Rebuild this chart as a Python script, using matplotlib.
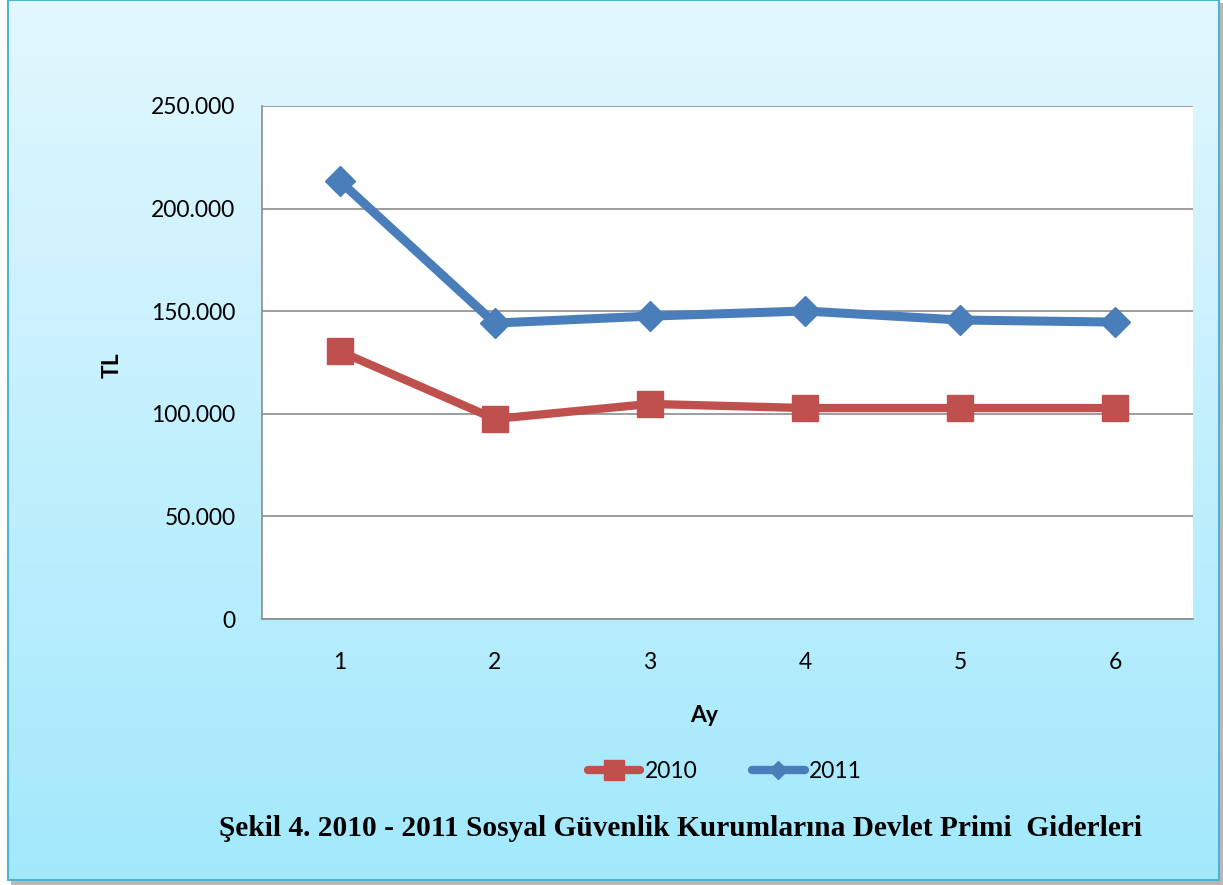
import numpy as np
import matplotlib
matplotlib.use("Agg")
import matplotlib.pyplot as plt
from matplotlib.patches import Rectangle
from matplotlib.lines import Line2D

months = [1, 2, 3, 4, 5, 6]
series_2010 = [130500, 97500, 104800, 102800, 102800, 102800]
series_2011 = [213500, 144200, 147600, 150100, 145700, 144700]
yticks = [0, 50000, 100000, 150000, 200000, 250000]
ytick_labels = ["0", "50.000", "100.000", "150.000", "200.000", "250.000"]
title = "Şekil 4. 2010 - 2011 Sosyal Güvenlik Kurumlarına Devlet Primi  Giderleri"

W, H = 1223, 885
fig = plt.figure(figsize=(W / 100, H / 100), dpi=100)

# background
bg = fig.add_axes([0, 0, 1, 1], zorder=-10)
bg.set_xlim(0, W); bg.set_ylim(H, 0); bg.axis("off")
bg.add_patch(Rectangle((11, 3), W - 11, H - 3, facecolor="#b8b8b8", edgecolor="none"))
top = np.array([0xE2, 0xF7, 0xFE]) / 255
bot = np.array([0xA3, 0xE9, 0xFC]) / 255
t = np.linspace(0, 1, 256)[:, None, None]
grad = top * (1 - t) + bot * t
grad = np.repeat(grad, 2, axis=1)
bg.imshow(grad, extent=(8, 1219, 880, 0), aspect="auto", zorder=1)
bg.add_patch(Rectangle((8, 0), 1211, 880, facecolor="none", edgecolor="#4eb3d3", linewidth=1.5, zorder=2))

font = "Lato"
fs = 16.5
ax = fig.add_axes([262 / W, 1 - 619 / H, (1193 - 262) / W, (619 - 106) / H])
ax.set_facecolor("white")
ax.set_xlim(0.5, 6.5)
ax.set_ylim(0, 250000)
ax.set_yticks(yticks)
ax.set_yticklabels(ytick_labels, fontsize=fs, fontfamily=font)
ax.set_xticks(months)
ax.set_xticklabels([str(m) for m in months], fontsize=fs, fontfamily=font)
ax.tick_params(length=0)
ax.tick_params(axis="y", pad=19)
ax.tick_params(axis="x", pad=24)
ax.yaxis.grid(True, color="#8c8c8c", linewidth=1.2)
ax.set_axisbelow(True)
for s in ["top", "right"]:
    ax.spines[s].set_visible(False)
for s in ["left", "bottom"]:
    ax.spines[s].set_color("#8c8c8c")
    ax.spines[s].set_linewidth(1.2)

red = "#C0504D"
blue = "#4A7EBB"
ax.plot(months, series_2010, color=red, linewidth=6, marker="s", markersize=18.5,
        solid_capstyle="round", zorder=3)
ax.plot(months, series_2011, color=blue, linewidth=6.5, marker="D", markersize=15,
        solid_capstyle="round", zorder=3)

fig.text(112 / W, 1 - 365 / H, "TL", rotation=90, ha="center", va="center",
         fontsize=fs, fontweight="bold", fontfamily=font)
fig.text(704 / W, 1 - 716 / H, "Ay", ha="center", va="center",
         fontsize=fs, fontweight="bold", fontfamily=font)

# legend
lg = bg
lg.add_line(Line2D([588, 640], [770, 770], color=red, linewidth=6, solid_capstyle="round", zorder=5))
lg.add_line(Line2D([614], [770], color=red, marker="s", markersize=14, zorder=6))
lg.text(645, 771, "2010", fontsize=fs, fontfamily=font, va="center", ha="left", zorder=6)
lg.add_line(Line2D([752, 805], [770, 770], color=blue, linewidth=6, solid_capstyle="round", zorder=5))
lg.add_line(Line2D([778], [770], color=blue, marker="D", markersize=9, zorder=6))
lg.text(809, 771, "2011", fontsize=fs, fontfamily=font, va="center", ha="left", zorder=6)

fig.text(681 / W, 1 - 829 / H, title, ha="center", va="center", fontsize=21.2,
         fontweight="bold", fontfamily="Liberation Serif")

fig.savefig("out.png", dpi=100)
